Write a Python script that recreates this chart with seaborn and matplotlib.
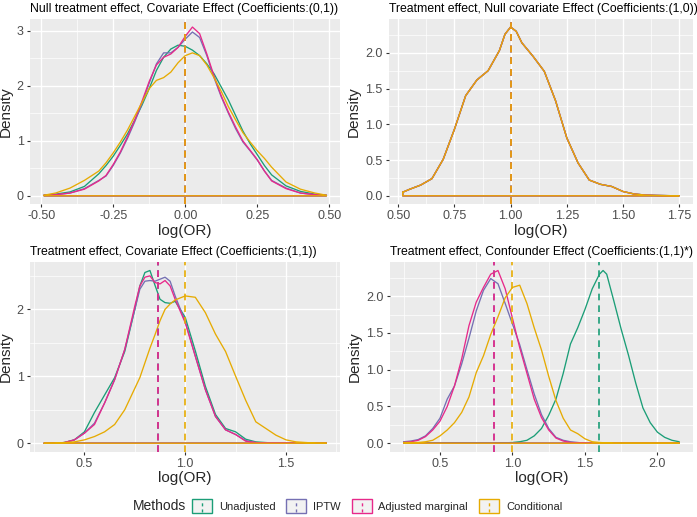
import numpy as np
import pandas as pd
import matplotlib
matplotlib.use("Agg")
import matplotlib.pyplot as plt
from matplotlib.ticker import MultipleLocator, FormatStrFormatter
from matplotlib.legend_handler import HandlerBase
from matplotlib.patches import Rectangle
from matplotlib.lines import Line2D
import seaborn as sns

# Métodos y colores (Dark2)
methods = ["Unadjusted", "IPTW", "Adjusted marginal", "Conditional"]
colors = ["#1B9E77", "#7570B3", "#E7298A", "#E6AB02"]

titles = [
    "Null treatment effect, Covariate Effect (Coefficients:(0,1))",
    "Treatment effect, Null covariate Effect (Coefficients:(1,0))",
    "Treatment effect, Covariate Effect (Coefficients:(1,1))",
    "Treatment effect, Confounder Effect (Coefficients:(1,1)*)",
]

# Panel 1: (0,1)
p1_x = [-0.49, -0.45, -0.40, -0.35, -0.30, -0.275, -0.25, -0.225, -0.20, -0.175,
        -0.15, -0.125, -0.10, -0.075, -0.05, -0.025, 0.0, 0.025, 0.05, 0.075,
        0.10, 0.125, 0.15, 0.175, 0.20, 0.225, 0.25, 0.275, 0.30, 0.35, 0.40, 0.45, 0.49]
p1_unadj = [0.01, 0.03, 0.07, 0.17, 0.40, 0.55, 0.72, 0.92, 1.13, 1.38,
            1.65, 1.95, 2.28, 2.52, 2.67, 2.74, 2.72, 2.65, 2.55, 2.40,
            2.22, 1.98, 1.74, 1.46, 1.18, 0.95, 0.75, 0.55, 0.38, 0.18, 0.08, 0.03, 0.01]
p1_iptw = [0.01, 0.02, 0.05, 0.13, 0.28, 0.36, 0.55, 0.78, 1.05, 1.35,
           1.68, 2.05, 2.40, 2.60, 2.60, 2.70, 2.85, 2.98, 2.88, 2.55,
           2.15, 1.80, 1.50, 1.22, 0.98, 0.82, 0.65, 0.45, 0.28, 0.14, 0.05, 0.02, 0.01]
p1_adj = [0.01, 0.02, 0.05, 0.12, 0.27, 0.37, 0.57, 0.80, 1.08, 1.38,
          1.72, 2.08, 2.38, 2.52, 2.58, 2.70, 2.90, 3.07, 2.95, 2.58,
          2.18, 1.82, 1.52, 1.25, 1.00, 0.83, 0.66, 0.45, 0.27, 0.13, 0.05, 0.02, 0.01]
p1_cond = [0.01, 0.05, 0.14, 0.28, 0.45, 0.60, 0.78, 0.98, 1.20, 1.45,
           1.70, 1.95, 2.10, 2.15, 2.25, 2.42, 2.55, 2.60, 2.55, 2.38,
           2.15, 1.90, 1.62, 1.38, 1.15, 0.98, 0.82, 0.68, 0.52, 0.25, 0.12, 0.05, 0.01]
p1_vlines = [0.0, 0.0, 0.0, 0.0]

# Panel 2: (1,0) - las cuatro curvas coinciden
p2_x = [0.52, 0.55, 0.60, 0.65, 0.70, 0.75, 0.80, 0.85, 0.90, 0.95, 0.975, 1.00,
        1.025, 1.05, 1.10, 1.15, 1.20, 1.25, 1.30, 1.35, 1.40, 1.45, 1.50, 1.55,
        1.60, 1.65, 1.70, 1.75]
p2_dens = [0.05, 0.09, 0.15, 0.24, 0.51, 0.93, 1.40, 1.62, 1.75, 2.03, 2.26, 2.36,
           2.30, 2.14, 1.95, 1.74, 1.33, 0.81, 0.46, 0.22, 0.16, 0.13, 0.06, 0.025,
           0.01, 0.005, 0.002, 0.0]
p2_vlines = [1.0, 1.0, 1.0, 1.0]

# Panel 3: (1,1)
p3_x = [0.30, 0.35, 0.40, 0.45, 0.50, 0.55, 0.60, 0.65, 0.70, 0.75, 0.775, 0.80,
        0.825, 0.85, 0.875, 0.90, 0.925, 0.95, 1.00, 1.05, 1.10, 1.15, 1.20, 1.25,
        1.30, 1.35, 1.40, 1.45, 1.50, 1.55, 1.60, 1.65, 1.70]
p3_unadj = [0.0, 0.0, 0.01, 0.05, 0.17, 0.46, 0.72, 0.98, 1.37, 2.00, 2.35, 2.55,
            2.58, 2.36, 2.15, 2.10, 2.09, 2.12, 1.88, 1.38, 0.85, 0.43, 0.22, 0.17,
            0.06, 0.02, 0.01, 0.0, 0.0, 0.0, 0.0, 0.0, 0.0]
p3_iptw = [0.0, 0.0, 0.01, 0.05, 0.15, 0.30, 0.60, 0.95, 1.40, 2.00, 2.30, 2.42,
           2.43, 2.42, 2.45, 2.48, 2.42, 2.20, 1.82, 1.30, 0.80, 0.40, 0.20, 0.13,
           0.04, 0.01, 0.0, 0.0, 0.0, 0.0, 0.0, 0.0, 0.0]
p3_adj = [0.0, 0.0, 0.01, 0.05, 0.15, 0.28, 0.60, 0.95, 1.40, 2.05, 2.35, 2.48,
          2.50, 2.40, 2.38, 2.43, 2.35, 2.15, 1.80, 1.30, 0.80, 0.40, 0.20, 0.13,
          0.03, 0.01, 0.0, 0.0, 0.0, 0.0, 0.0, 0.0, 0.0]
p3_cond = [0.0, 0.0, 0.01, 0.02, 0.05, 0.10, 0.17, 0.28, 0.50, 0.82, 0.98, 1.20,
           1.42, 1.62, 1.83, 2.00, 2.08, 2.14, 2.20, 2.18, 1.95, 1.63, 1.37, 1.00,
           0.64, 0.32, 0.22, 0.12, 0.05, 0.02, 0.01, 0.0, 0.0]
p3_vlines = [0.865, 0.865, 0.865, 1.0]

# Panel 4: (1,1)* confusor
p4_x = [0.25, 0.30, 0.35, 0.40, 0.45, 0.50, 0.55, 0.60, 0.65, 0.70, 0.75, 0.80,
        0.85, 0.90, 0.95, 1.00, 1.05, 1.10, 1.15, 1.20, 1.25, 1.30, 1.35, 1.40,
        1.45, 1.50, 1.55, 1.60, 1.625, 1.65, 1.70, 1.75, 1.80, 1.85, 1.90, 1.95,
        2.00, 2.05, 2.10, 2.15]
p4_unadj = [0.0, 0.0, 0.0, 0.0, 0.0, 0.0, 0.0, 0.0, 0.0, 0.0, 0.0, 0.0,
            0.0, 0.0, 0.005, 0.01, 0.02, 0.04, 0.10, 0.20, 0.38, 0.60, 0.95, 1.35,
            1.57, 1.82, 2.10, 2.30, 2.35, 2.30, 1.93, 1.55, 1.20, 0.82, 0.48, 0.28,
            0.15, 0.08, 0.04, 0.02]
p4_iptw = [0.02, 0.03, 0.05, 0.10, 0.20, 0.34, 0.60, 0.78, 1.08, 1.43, 1.80, 2.08,
           2.24, 2.17, 1.90, 1.62, 1.34, 1.00, 0.67, 0.39, 0.20, 0.08, 0.04, 0.02,
           0.01, 0.0, 0.0, 0.0, 0.0, 0.0, 0.0, 0.0, 0.0, 0.0, 0.0, 0.0,
           0.0, 0.0, 0.0, 0.0]
p4_adj = [0.01, 0.02, 0.04, 0.09, 0.18, 0.30, 0.50, 0.78, 1.15, 1.60, 1.92, 2.12,
          2.30, 2.35, 2.10, 1.70, 1.30, 0.95, 0.60, 0.35, 0.18, 0.07, 0.03, 0.01,
          0.005, 0.0, 0.0, 0.0, 0.0, 0.0, 0.0, 0.0, 0.0, 0.0, 0.0, 0.0,
          0.0, 0.0, 0.0, 0.0]
p4_cond = [0.01, 0.01, 0.01, 0.02, 0.04, 0.10, 0.18, 0.28, 0.42, 0.63, 0.96, 1.19,
           1.48, 1.72, 1.98, 2.12, 2.15, 1.90, 1.57, 1.27, 0.91, 0.58, 0.34, 0.18,
           0.13, 0.06, 0.02, 0.01, 0.007, 0.005, 0.0, 0.0, 0.0, 0.0, 0.0, 0.0,
           0.0, 0.0, 0.0, 0.0]
p4_vlines = [1.6, 0.874, 0.874, 1.0]

panels = [
    (p1_x, [p1_unadj, p1_iptw, p1_adj, p1_cond], p1_vlines),
    (p2_x, [p2_dens, p2_dens, p2_dens, p2_dens], p2_vlines),
    (p3_x, [p3_unadj, p3_iptw, p3_adj, p3_cond], p3_vlines),
    (p4_x, [p4_unadj, p4_iptw, p4_adj, p4_cond], p4_vlines),
]

# Ticks por panel: (x mayor, x menor, y mayor, y menor, formato x, formato y)
tick_cfg = [
    (0.25, 0.125, 1.0, 0.5, "%.2f", "%.0f"),
    (0.25, 0.125, 0.5, 0.25, "%.2f", "%.1f"),
    (0.5, 0.25, 1.0, 0.5, "%.1f", "%.0f"),
    (0.5, 0.25, 0.5, 0.25, "%.1f", "%.1f"),
]

axes_pos = [
    [0.043, 0.605, 0.4455, 0.359],
    [0.558, 0.605, 0.4362, 0.359],
    [0.043, 0.126, 0.4455, 0.3675],
    [0.5595, 0.126, 0.4347, 0.3675],
]

sns.set_theme(style="darkgrid")
plt.rcParams["font.family"] = ["Liberation Sans", "DejaVu Sans"]
palette = dict(zip(methods, colors))


class KeyHandler(HandlerBase):
    """Caja gris con borde de color y línea discontinua vertical (estilo ggplot)"""
    def create_artists(self, legend, orig_handle, xdescent, ydescent,
                       width, height, fontsize, trans):
        c = orig_handle.get_color()
        box = Rectangle((-xdescent, -ydescent), width, height, facecolor="#F2F2F2",
                        edgecolor=c, lw=1.0, transform=trans)
        mid = -xdescent + width / 2
        ln = Line2D([mid, mid], [-ydescent + 1, -ydescent + height - 1], color=c,
                    lw=1.0, ls=(0, (2.2, 2.2)), transform=trans)
        return [box, ln]


fig = plt.figure(figsize=(6.97, 5.17), dpi=100)

for i, (xs, dens_list, vlines) in enumerate(panels):
    ax = fig.add_axes(axes_pos[i])
    rows = []
    for m, dens in zip(methods, dens_list):
        # contorno cerrado como geom_density
        px = list(xs) + [xs[-1], xs[0], xs[0]]
        py = list(dens) + [0.0, 0.0, dens[0]]
        for order, (a, b) in enumerate(zip(px, py)):
            rows.append({"x": a, "density": b, "method": m, "order": order})
    df = pd.DataFrame(rows)
    sns.lineplot(data=df, x="x", y="density", hue="method", hue_order=methods,
                 palette=palette, sort=False, estimator=None, legend=False,
                 linewidth=0.95, ax=ax)
    for m, v in zip(methods, vlines):
        ax.axvline(v, color=palette[m], lw=1.2, ls=(0, (4, 3)))

    xmin, xmax = min(xs), max(xs)
    ymax = max(max(d) for d in dens_list)
    xr = xmax - xmin
    ax.set_xlim(xmin - 0.05 * xr, xmax + 0.05 * xr)
    ax.set_ylim(-0.05 * ymax, ymax * 1.05)

    xmaj, xmin_t, ymaj, ymin_t, fx, fy = tick_cfg[i]
    ax.xaxis.set_major_locator(MultipleLocator(xmaj))
    ax.xaxis.set_minor_locator(MultipleLocator(xmin_t))
    ax.yaxis.set_major_locator(MultipleLocator(ymaj))
    ax.yaxis.set_minor_locator(MultipleLocator(ymin_t))
    ax.xaxis.set_major_formatter(FormatStrFormatter(fx))
    ax.yaxis.set_major_formatter(FormatStrFormatter(fy))

    ax.set_facecolor("#EBEBEB")
    ax.grid(which="major", color="white", lw=1.0)
    ax.grid(which="minor", color="white", lw=0.5)
    for s in ax.spines.values():
        s.set_visible(False)
    ax.tick_params(which="major", length=2.5, width=0.8, color="#333333",
                   labelsize=9, labelcolor="#4D4D4D", pad=2, bottom=True, left=True)
    ax.tick_params(which="minor", length=0)

    ax.set_title(titles[i], loc="left", fontsize=8.8, pad=5, color="black")
    ax.set_xlabel("log(OR)", fontsize=11, labelpad=1)
    ax.set_ylabel("Density", fontsize=11, labelpad=3)

handles = [Line2D([], [], color=c) for c in colors]
fig.legend(handles, methods, handler_map={Line2D: KeyHandler()},
           loc="center", bbox_to_anchor=(0.541, 0.021), ncol=4, frameon=False,
           fontsize=8, handlelength=1.8, handleheight=1.6, handletextpad=0.6,
           columnspacing=1.0)
fig.text(0.19, 0.021, "Methods", fontsize=10, va="center", ha="left")

fig.savefig("out.png", dpi=100)
plt.close(fig)
